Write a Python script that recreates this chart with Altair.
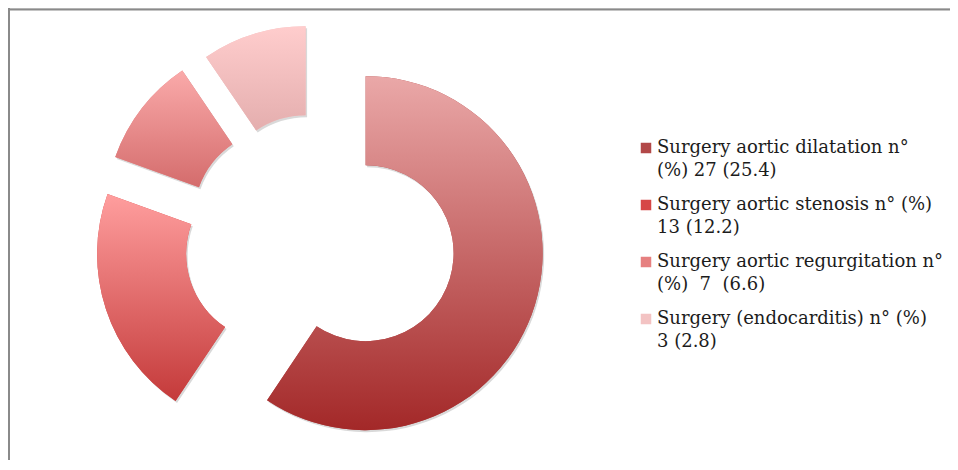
import altair as alt
import pandas as pd

# Legend labels (two lines each, split at "|")
categories = [
    "Surgery aortic dilatation n°|(%) 27 (25.4)",
    "Surgery aortic stenosis n° (%)|13 (12.2)",
    "Surgery aortic regurgitation n°|(%)\u00a0\u00a07\u00a0\u00a0(6.6)",
    "Surgery (endocarditis) n° (%)|3 (2.8)",
]
# Share of the ring taken by each slice (percent)
ring_share = [59.4, 21.1, 10.0, 9.5]

legend_colors = ["#B24848", "#D64646", "#E68080", "#F3C3C3"]
grad_top = ["#EAA8A8", "#FF9E9E", "#FAAAAA", "#FFCDCD"]
grad_bottom = ["#A32828", "#C43A3A", "#D46C6C", "#E4AEAE"]

df = pd.DataFrame({"cat": categories, "share": ring_share, "order": list(range(len(categories)))})

CX, CY = 311.7, 233.5      # common centre (px, plot area)
AX, AY = 48.0, 40.0        # explosion distance
R_OUT, R_IN = 177, 88

base = (
    alt.Chart(df)
    .transform_window(cum="sum(share)", frame=[None, 0], sort=[alt.SortField("order")])
    .transform_joinaggregate(total="sum(share)")
    .transform_calculate(
        t1="2*PI*datum.cum/datum.total",
        t0="2*PI*(datum.cum-datum.share)/datum.total",
    )
    .transform_calculate(mid="(datum.t0+datum.t1)/2")
    .transform_calculate(
        px=f"{CX}+{AX}*sin(datum.mid)",
        py=f"{CY}-{AY}*cos(datum.mid)",
        sx=f"{CX}+{AX}*sin(datum.mid)+1.5",
        sy=f"{CY}-{AY}*cos(datum.mid)+2",
    )
)

theta = alt.Theta("t0:Q", scale=None, stack=None)
theta2 = alt.Theta2("t1:Q")

shadow = base.mark_arc(radius=R_OUT, radius2=R_IN, fill="#808080", opacity=0.3).encode(
    x=alt.X("sx:Q", scale=None), y=alt.Y("sy:Q", scale=None), theta=theta, theta2=theta2
)

legend_layer = base.mark_arc(radius=R_OUT, radius2=R_IN).encode(
    x=alt.X("px:Q", scale=None),
    y=alt.Y("py:Q", scale=None),
    theta=theta,
    theta2=theta2,
    color=alt.Color(
        "cat:N",
        scale=alt.Scale(domain=categories, range=legend_colors),
        sort=categories,
        legend=alt.Legend(
            title=None,
            orient="none",
            legendX=629,
            legendY=131,
            padding=0,
            symbolType="square",
            symbolSize=110,
            symbolStrokeWidth=0,
            labelFont="DejaVu Serif",
            labelFontSize=18,
            labelColor="#1c1c1c",
            labelLimit=0,
            labelOffset=2,
            labelBaseline="middle",
            rowPadding=16,
            labelExpr="split(datum.label, '|')",
        ),
    ),
)


def grad(top, bottom):
    return {
        "gradient": "linear",
        "x1": 0, "y1": 0, "x2": 0, "y2": 1,
        "stops": [{"offset": 0, "color": top}, {"offset": 1, "color": bottom}],
    }


conds = [
    {"test": f"datum.cat === {c!r}", "value": grad(t, b)}
    for c, t, b in zip(categories[:-1], grad_top[:-1], grad_bottom[:-1])
]
fill_enc = {"condition": conds, "value": grad(grad_top[-1], grad_bottom[-1])}

grad_layer = base.mark_arc(radius=R_OUT, radius2=R_IN).encode(
    x=alt.X("px:Q", scale=None),
    y=alt.Y("py:Q", scale=None),
    theta=theta,
    theta2=theta2,
    fill=fill_enc,
)

frame = pd.DataFrame({"k": [0]})
top_line = alt.Chart(frame).mark_rule(color="#8a8a8a", strokeWidth=2).encode(
    x=alt.value(0), x2=alt.value(950), y=alt.value(1.5)
)
left_line = alt.Chart(frame).mark_rule(color="#8a8a8a", strokeWidth=2).encode(
    x=alt.value(1), y=alt.value(0), y2=alt.value(452)
)

chart = (
    alt.layer(shadow, legend_layer, grad_layer, top_line, left_line)
    .properties(width=942, height=452, autosize=alt.AutoSizeParams(type="none"), padding=0)
    .configure_view(stroke=None)
    .configure(style={"guide-label": {"lineHeight": 23}})
)

chart.save("out.html", embed_options={"renderer": "svg", "actions": False})
